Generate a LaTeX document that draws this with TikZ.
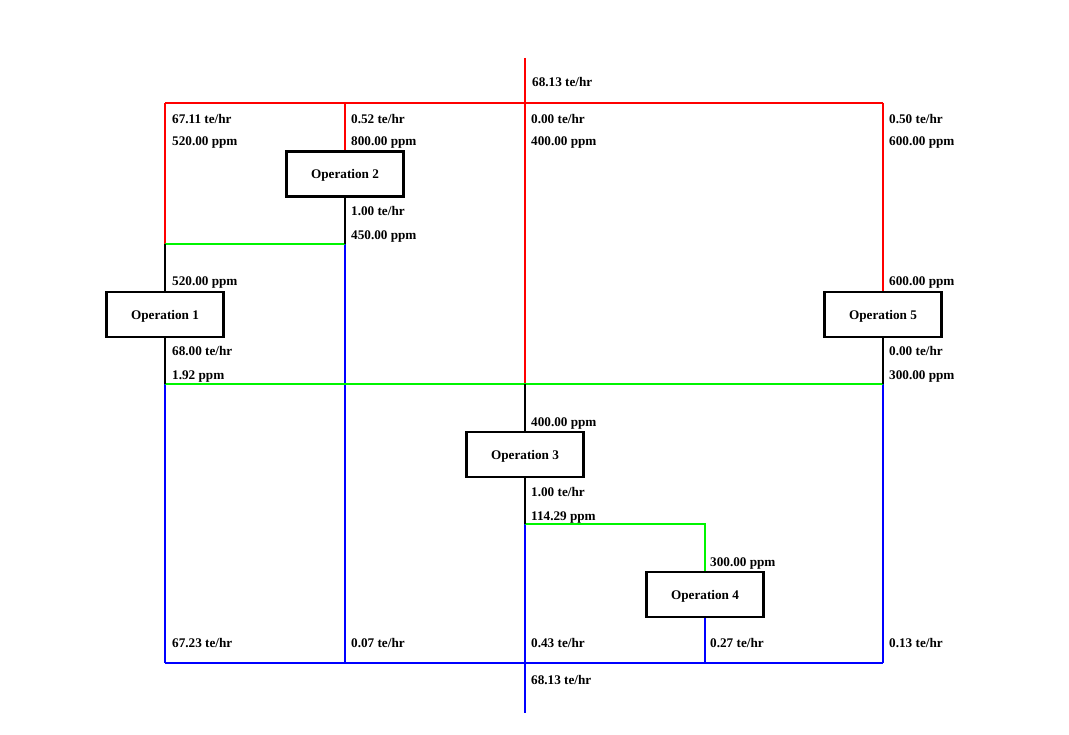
\documentclass[tikz,border=0pt]{standalone}
\usepackage{fontspec}
\setmainfont{Liberation Serif}
\begin{document}
\begin{tikzpicture}[x=1pt,y=-1pt,
  op/.style={draw=black,line width=2.4pt,fill=white,minimum width=117pt,minimum height=45pt,inner sep=0pt,text depth=0pt,font=\fontsize{13.2}{15}\selectfont\bfseries},
  lbl/.style={anchor=base west,inner sep=0pt,font=\fontsize{13.2}{15}\selectfont\bfseries},
  pipe/.style={line width=2pt},
  redp/.style={pipe,draw={rgb,255:red,255;green,0;blue,0}},
  grnp/.style={pipe,draw={rgb,255:red,0;green,245;blue,0}},
  blup/.style={pipe,draw={rgb,255:red,0;green,0;blue,255}},
  blkp/.style={pipe,draw=black}]
\useasboundingbox (0,0) rectangle (1069,735);
% coordinates
\coordinate (top) at (525,58);
\coordinate (jt) at (525,103);
\coordinate (tl) at (165,103);
\coordinate (t2) at (345,103);
\coordinate (tr) at (883,103);
\coordinate (j1) at (165,244);
\coordinate (j2) at (345,244);
\coordinate (g1) at (165,384);
\coordinate (g3) at (525,384);
\coordinate (g5) at (883,384);
\coordinate (j3) at (525,524);
\coordinate (j4) at (705,524);
\coordinate (b1) at (165,663);
\coordinate (b2) at (345,663);
\coordinate (b4) at (705,663);
\coordinate (b5) at (883,663);
\coordinate (bot) at (525,713);
% operation nodes (placed first for anchors, redrawn on top)
\path (345,174) node[op] (op2) {Operation 2};
\path (165,314.5) node[op] (op1) {Operation 1};
\path (883,314.5) node[op] (op5) {Operation 5};
\path (525,454.5) node[op] (op3) {Operation 3};
\path (705,594.5) node[op] (op4) {Operation 4};
% red
\draw[redp] (top) -- (jt);
\draw[redp] (tl) -- (tr);
\draw[redp] (tl) -- (j1);
\draw[redp] (t2) -- (op2.north);
\draw[redp] (tr) -- (op5.north);
\draw[redp] (jt) -- (g3);
% blue
\draw[blup] (j2) -- (b2);
\draw[blup] (g1) -- (b1);
\draw[blup] (g5) -- (b5);
\draw[blup] (j3) -- (bot);
\draw[blup] (op4.south) -- (b4);
\draw[blup] (b1) -- (b5);
% green
\draw[grnp] (j1) -- (j2);
\draw[grnp] (g1) -- (g5);
\draw[grnp] (j3) -- (j4) -- (op4.north);
% black
\draw[blkp] (op2.south) -- (j2);
\draw[blkp] (j1) -- (op1.north);
\draw[blkp] (op1.south) -- (g1);
\draw[blkp] (op5.south) -- (g5);
\draw[blkp] (g3) -- (op3.north);
\draw[blkp] (op3.south) -- (j3);
% boxes on top
\node[op] at (op2) {Operation 2};
\node[op] at (op1) {Operation 1};
\node[op] at (op5) {Operation 5};
\node[op] at (op3) {Operation 3};
\node[op] at (op4) {Operation 4};
% labels
\node[lbl] (l01) at (532,87) {68.13 te/hr};
\node[lbl] (l02) at (172,123.5) {67.11 te/hr};
\node[lbl] (l03) at (172,146) {520.00 ppm};
\node[lbl] (l04) at (351,123.5) {0.52 te/hr};
\node[lbl] (l05) at (351,146) {800.00 ppm};
\node[lbl] (l06) at (531,123.5) {0.00 te/hr};
\node[lbl] (l07) at (531,146) {400.00 ppm};
\node[lbl] (l08) at (889,123.5) {0.50 te/hr};
\node[lbl] (l09) at (889,146) {600.00 ppm};
\node[lbl] (l10) at (351,216) {1.00 te/hr};
\node[lbl] (l11) at (351,240) {450.00 ppm};
\node[lbl] (l12) at (172,286) {520.00 ppm};
\node[lbl] (l13) at (889,286) {600.00 ppm};
\node[lbl] (l14) at (172,356) {68.00 te/hr};
\node[lbl] (l15) at (172,380) {1.92 ppm};
\node[lbl] (l16) at (889,356) {0.00 te/hr};
\node[lbl] (l17) at (889,380) {300.00 ppm};
\node[lbl] (l18) at (531,426) {400.00 ppm};
\node[lbl] (l19) at (531,496) {1.00 te/hr};
\node[lbl] (l20) at (531,520) {114.29 ppm};
\node[lbl] (l21) at (710,566) {300.00 ppm};
\node[lbl] (l22) at (172,647) {67.23 te/hr};
\node[lbl] (l23) at (351,647) {0.07 te/hr};
\node[lbl] (l24) at (531,647) {0.43 te/hr};
\node[lbl] (l25) at (710,647) {0.27 te/hr};
\node[lbl] (l26) at (889,647) {0.13 te/hr};
\node[lbl] (l27) at (531,684) {68.13 te/hr};
\end{tikzpicture}
\end{document}
